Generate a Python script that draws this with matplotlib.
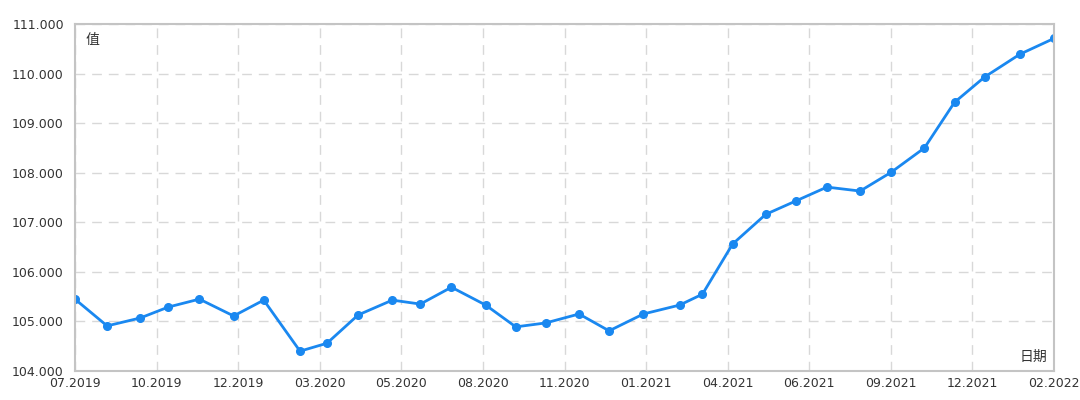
import numpy as np
import matplotlib.pyplot as plt
import matplotlib.dates as mdates

plt.rcParams['font.family'] = ['DejaVu Sans', 'Noto Sans CJK SC']

dates = ['2019-07-20', '2019-08-20', '2019-09-21', '2019-10-18', '2019-11-17', '2019-12-20',
         '2020-01-18', '2020-02-22', '2020-03-19', '2020-04-18', '2020-05-21', '2020-06-17',
         '2020-07-17', '2020-08-19', '2020-09-17', '2020-10-16', '2020-11-17', '2020-12-16',
         '2021-01-18', '2021-02-22', '2021-03-16', '2021-04-14', '2021-05-16', '2021-06-14',
         '2021-07-14', '2021-08-15', '2021-09-14', '2021-10-16', '2021-11-14', '2021-12-13',
         '2022-01-16', '2022-02-18']
values = [105.45, 104.91, 105.07, 105.29, 105.45, 105.11, 105.43, 104.40, 104.56, 105.13,
          105.43, 105.35, 105.69, 105.33, 104.89, 104.97, 105.15, 104.81, 105.15, 105.33,
          105.55, 106.56, 107.16, 107.43, 107.71, 107.63, 108.01, 108.50, 109.42, 109.93,
          110.39, 110.71]
y_label = '值'
x_label = '日期'

x = np.array(dates, dtype='datetime64[D]')

fig = plt.figure(figsize=(10.8, 4), dpi=100)
ax = fig.add_axes([0.0694, 0.0725, 0.9066, 0.8675])

ax.plot(x, values, color='#1a88f0', lw=2, marker='o', markersize=5.5)

ax.set_xlim(x[0], x[-1])
ax.set_ylim(104, 111)
ax.set_yticks(np.arange(104, 112, 1))
ax.yaxis.set_major_formatter(plt.FuncFormatter(lambda v, p: f'{v:.3f}'))
lo, hi = mdates.date2num(x[0]), mdates.date2num(x[-1])
ax.set_xticks(np.linspace(lo, hi, 13))
ax.xaxis.set_major_formatter(mdates.DateFormatter('%m.%Y'))

ax.grid(True, color='#d8d8d8', linestyle=(0, (7, 5)), lw=1)
ax.tick_params(length=0, labelsize=9, colors='#333333', pad=8)
ax.tick_params(axis='x', pad=4)
for s in ax.spines.values():
    s.set_color('#c4c4c4')
    s.set_linewidth(1.5)

ax.text(0.011, 0.975, y_label, transform=ax.transAxes, ha='left', va='top',
        fontsize=10, color='#333333', family='Noto Sans CJK SC')
ax.text(0.993, 0.02, x_label, transform=ax.transAxes, ha='right', va='bottom',
        fontsize=10, color='#333333', family='Noto Sans CJK SC')

fig.savefig('out.png', dpi=100)
